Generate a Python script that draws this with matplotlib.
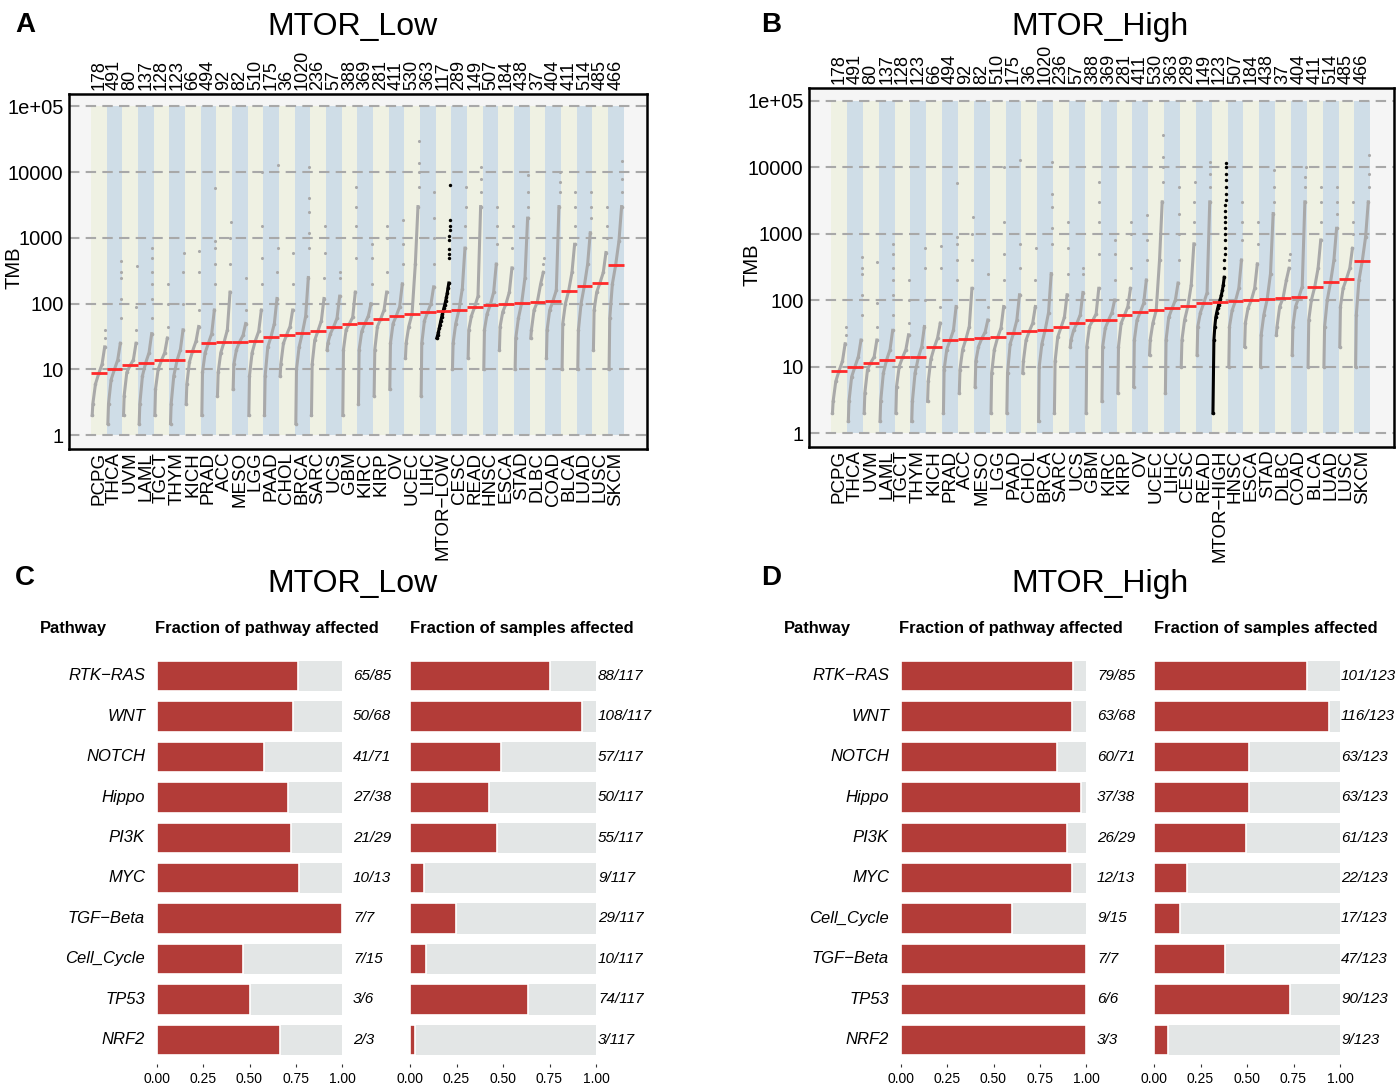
import matplotlib.pyplot as plt
import numpy as np
from matplotlib.transforms import blended_transform_factory

plt.rcParams['font.family'] = ['Liberation Sans', 'DejaVu Sans']

W, H = 1399, 1089

# ---------------- TMB data ----------------
tcga_types = ['PCPG', 'THCA', 'UVM', 'LAML', 'TGCT', 'THYM', 'KICH', 'PRAD', 'ACC', 'MESO',
              'LGG', 'PAAD', 'CHOL', 'BRCA', 'SARC', 'UCS', 'GBM', 'KIRC', 'KIRP', 'OV',
              'UCEC', 'LIHC', 'CESC', 'READ', 'HNSC', 'ESCA', 'STAD', 'DLBC', 'COAD', 'BLCA',
              'LUAD', 'LUSC', 'SKCM']
tcga_n = [178, 491, 80, 137, 128, 123, 66, 494, 92, 82,
          510, 175, 36, 1020, 236, 57, 388, 369, 281, 411,
          530, 363, 289, 149, 507, 184, 438, 37, 404, 411,
          514, 485, 466]
tcga_median = [8.7, 10, 11.5, 12.7, 13.7, 13.8, 19.4, 25, 26, 26.5,
               27.5, 31.6, 34, 36, 39, 45, 49.5, 50.5, 59, 66,
               70, 75, 81, 90, 97, 100, 103, 107, 111, 158,
               187, 208, 390]
# values at ranks 0, 5%, 25%, 50%, 75%, 95%
body_ranks = [0, 0.05, 0.25, 0.5, 0.75, 0.95]
tcga_body = [
    [2, 3, 6, 8.7, 12, 22], [1.5, 3, 7, 10, 14, 25], [2, 4, 9, 11.5, 14, 25],
    [1.5, 3, 8, 12.7, 18, 35], [2, 5, 10, 13.7, 18, 30], [1.5, 3, 8, 13.8, 20, 40],
    [3, 6, 13, 19.4, 27, 45], [2, 9, 18, 25, 35, 80], [4, 9, 18, 26, 40, 150],
    [5, 12, 20, 26.5, 33, 50], [2, 8, 18, 27.5, 38, 80], [2, 8, 22, 31.6, 50, 120],
    [8, 12, 25, 34, 45, 80], [1.5, 10, 22, 36, 65, 250], [2, 12, 28, 39, 55, 120],
    [20, 25, 35, 45, 60, 130], [2, 20, 40, 49.5, 62, 150], [3, 20, 38, 50.5, 65, 100],
    [4, 20, 45, 59, 80, 150], [5, 25, 50, 66, 90, 200], [15, 25, 45, 70, 400, 3000],
    [4, 25, 55, 75, 100, 180], [10, 25, 50, 81, 170, 700], [15, 40, 65, 90, 130, 3000],
    [10, 40, 70, 97, 150, 400], [20, 45, 75, 100, 150, 350], [10, 30, 60, 103, 250, 2000],
    [30, 40, 80, 107, 200, 300], [15, 40, 80, 111, 160, 3000], [10, 50, 100, 158, 300, 800],
    [10, 40, 100, 187, 400, 1200], [20, 80, 150, 208, 300, 600], [10, 60, 200, 390, 900, 3000],
]
tcga_tail = [
    [30, 40], [60, 120, 250, 300, 450], [40, 90, 375],
    [60, 120, 200, 300, 500, 700], [45, 100, 200], [100, 300, 600],
    [80, 300, 640], [200, 400, 700, 900, 5700], [400, 1000, 1750],
    [80, 250], [200, 500, 1500, 10000], [300, 700, 13000],
    [200, 600], [700, 1200, 2500, 4000, 12000], [250, 600, 1500],
    [250, 300], [500, 1500, 3000, 6000], [200, 500, 800],
    [300, 1000, 1500], [400, 800, 1900], [6000, 10000, 14000, 30000],
    [400, 1000, 2000, 5000], [1500, 3000, 6000], [5000, 8000, 12000],
    [800, 1500, 3000], [700, 1500], [3000, 5000, 9000],
    [400, 500], [5000, 7000, 10000], [1500, 3000, 5000],
    [2000, 3000, 5000], [1000, 1500, 3000], [5000, 8000, 15000],
]

mtor_low_n = 117
mtor_low_median = 78
mtor_low_body = [30, 33, 37, 42, 48, 55, 62, 70, 78, 87, 97, 110, 125, 145, 175, 206]
mtor_low_tail = [495, 577, 680, 920, 1085, 1340, 1510, 1900, 6300]

mtor_high_n = 123
mtor_high_median = 95
mtor_high_body = [2, 25, 40, 55, 65, 75, 85, 95, 105, 120, 140, 170, 220]
mtor_high_tail = [300, 400, 500, 600, 800, 1000, 1200, 1500, 1800, 2200, 2700, 3200,
                  4000, 5000, 6500, 8000, 10000, 11500]

# ---------------- pathway data ----------------
low_pathways = ['RTK−RAS', 'WNT', 'NOTCH', 'Hippo', 'PI3K', 'MYC', 'TGF−Beta',
                'Cell_Cycle', 'TP53', 'NRF2']
low_genes_hit = [65, 50, 41, 27, 21, 10, 7, 7, 3, 2]
low_genes_total = [85, 68, 71, 38, 29, 13, 7, 15, 6, 3]
low_samples_hit = [88, 108, 57, 50, 55, 9, 29, 10, 74, 3]
low_samples_total = 117

high_pathways = ['RTK−RAS', 'WNT', 'NOTCH', 'Hippo', 'PI3K', 'MYC', 'Cell_Cycle',
                 'TGF−Beta', 'TP53', 'NRF2']
high_genes_hit = [79, 63, 60, 37, 26, 12, 9, 7, 6, 3]
high_genes_total = [85, 68, 71, 38, 29, 13, 15, 7, 6, 3]
high_samples_hit = [101, 116, 63, 63, 61, 22, 17, 47, 90, 9]
high_samples_total = 123

GREY_DOT = '#a9a9a9'
BAND_A = '#eff1e3'
BAND_B = '#cfdde7'
RED_LINE = '#ff2a2a'
BAR_RED = '#b33c38'
BAR_GREY = '#e3e6e6'

fig = plt.figure(figsize=(W / 100, H / 100), dpi=100)


def add_ax(l, t, r, b):
    return fig.add_axes([l / W, 1 - b / H, (r - l) / W, (b - t) / H])


def ftext(x, y, s, **kw):
    fig.text(x / W, 1 - y / H, s, **kw)


def tmb_panel(box, label, insert_at, mtor_n, mtor_med, mtor_body, mtor_tail):
    types = tcga_types[:insert_at] + [label] + tcga_types[insert_at:]
    ns = tcga_n[:insert_at] + [mtor_n] + tcga_n[insert_at:]
    meds = tcga_median[:insert_at] + [mtor_med] + tcga_median[insert_at:]
    bodies = tcga_body[:insert_at] + [mtor_body] + tcga_body[insert_at:]
    tails = tcga_tail[:insert_at] + [mtor_tail] + tcga_tail[insert_at:]

    ax = add_ax(*box)
    ax.set_facecolor('#f5f5f5')
    k = len(types)
    xs = np.arange(k)
    ax.set_yscale('log')
    ax.set_xlim(-1.4, k + 1.5)
    ax.set_ylim(10 ** -0.21, 10 ** 5.19)
    cols = [BAND_A if i % 2 == 0 else BAND_B for i in xs]
    ax.bar(xs + 0.5, 1e5 - 1, bottom=1, width=1, color=cols, lw=0, zorder=0)
    for v in [1, 10, 100, 1000, 10000, 1e5]:
        ax.axhline(v, color='#a8a8a8', lw=1.5, ls=(0, (5, 3)), zorder=1)

    for i in range(k):
        hl = i == insert_at
        col = 'black' if hl else GREY_DOT
        body = bodies[i]
        tail = tails[i]
        m = len(tail)
        if hl:
            r = np.linspace(0, 1 - (m + 1) / ns[i], len(body))
        else:
            r = np.array(body_ranks)
        ax.plot(i + 0.08 + 0.84 * r, body, color=col, lw=2.2, marker='o', ms=2.6,
                mew=0, zorder=2 + hl)
        tr = (ns[i] - m + np.arange(m) + 0.5) / ns[i]
        ax.scatter(i + 0.08 + 0.84 * tr, tail, s=6 if hl else 5, color=col, lw=0,
                   zorder=2 + hl)
        ax.hlines(meds[i], i, i + 1, color=RED_LINE, lw=2, zorder=4)

    ax.set_yticks([1, 10, 100, 1000, 10000, 1e5])
    ax.set_yticklabels(['1', '10', '100', '1000', '10000', '1e+05'], fontsize=14.5)
    ax.yaxis.set_minor_locator(plt.NullLocator())
    ax.set_xticks(xs + 0.5)
    ax.set_xticklabels(types, rotation=90, fontsize=13.5, va='top', ha='center')
    ax.tick_params(length=0, pad=4)
    ax.tick_params(axis='x', pad=2)
    for s in ax.spines.values():
        s.set_linewidth(1.8)
    tr = blended_transform_factory(ax.transData, ax.transAxes)
    for i in range(k):
        ax.text(i + 0.5, 1.012, str(ns[i]), rotation=90, ha='center', va='bottom',
                fontsize=13, transform=tr)
    return ax


tmb_panel((69, 94, 647, 449), 'MTOR−LOW', 22, mtor_low_n, mtor_low_median,
          mtor_low_body, mtor_low_tail)
tmb_panel((809, 88, 1394, 447), 'MTOR−HIGH', 24, mtor_high_n, mtor_high_median,
          mtor_high_body, mtor_high_tail)

ftext(14, 268, 'TMB', rotation=90, ha='center', va='center', fontsize=14.5)
ftext(752, 265, 'TMB', rotation=90, ha='center', va='center', fontsize=14.5)
ftext(352, 27, 'MTOR_Low', ha='center', va='center', fontsize=23)
ftext(1100, 27, 'MTOR_High', ha='center', va='center', fontsize=23)


def bar_group(l, r, hit, total, text_x, texts):
    ax = add_ax(l, 650, r, 1064)
    ys = np.arange(len(hit))
    frac = np.array(hit) / np.array(total)
    ax.barh(ys, 1, height=0.75, color=BAR_GREY, lw=0)
    ax.barh(ys, frac, height=0.75, color=BAR_RED, edgecolor='white', lw=1.2)
    ax.set_xlim(0, 1)
    ax.set_ylim(9 + 24 / 40.4, -26 / 40.4)
    ax.set_yticks([])
    ax.set_xticks([0, 0.25, 0.5, 0.75, 1.0])
    ax.set_xticklabels(['0.00', '0.25', '0.50', '0.75', '1.00'], fontsize=10)
    ax.tick_params(axis='x', length=2, color='#333333', pad=4)
    for s in ax.spines.values():
        s.set_visible(False)
    for i, t in enumerate(texts):
        ftext(text_x, 676 + 40.4 * i, t, ha='left', va='center', fontsize=11,
              style='italic')


def path_panel(x0, names, g_hit, g_tot, s_hit, s_tot, frac_text_x2):
    ftext(x0 + 40, 628, 'Pathway', ha='left', va='center', fontsize=11.9,
          fontweight='bold')
    ftext(x0 + 155, 628, 'Fraction of pathway affected', ha='left', va='center',
          fontsize=11.9, fontweight='bold')
    ftext(x0 + 410, 628, 'Fraction of samples affected', ha='left', va='center',
          fontsize=11.9, fontweight='bold')
    for i, nm in enumerate(names):
        ftext(x0 + 145, 676 + 40.4 * i, nm, ha='right', va='center', fontsize=12,
              style='italic')
    bar_group(x0 + 157, x0 + 342, g_hit, g_tot, x0 + 353,
              ['%d/%d' % (a, b) for a, b in zip(g_hit, g_tot)])
    s_tots = [s_tot] * len(s_hit)
    bar_group(x0 + 410, x0 + 596, s_hit, s_tots, x0 + frac_text_x2,
              ['%d/%d' % (a, s_tot) for a in s_hit])


path_panel(0, low_pathways, low_genes_hit, low_genes_total,
           low_samples_hit, low_samples_total, 598)
path_panel(744, high_pathways, high_genes_hit, high_genes_total,
           high_samples_hit, high_samples_total, 597)

ftext(352, 584, 'MTOR_Low', ha='center', va='center', fontsize=23)
ftext(1100, 584, 'MTOR_High', ha='center', va='center', fontsize=23)

for lab, x, y in [('A', 25, 25), ('B', 771, 25), ('C', 25, 578), ('D', 771, 578)]:
    ftext(x, y, lab, ha='center', va='center', fontsize=20, fontweight='bold')

fig.savefig('out.png', dpi=100)
